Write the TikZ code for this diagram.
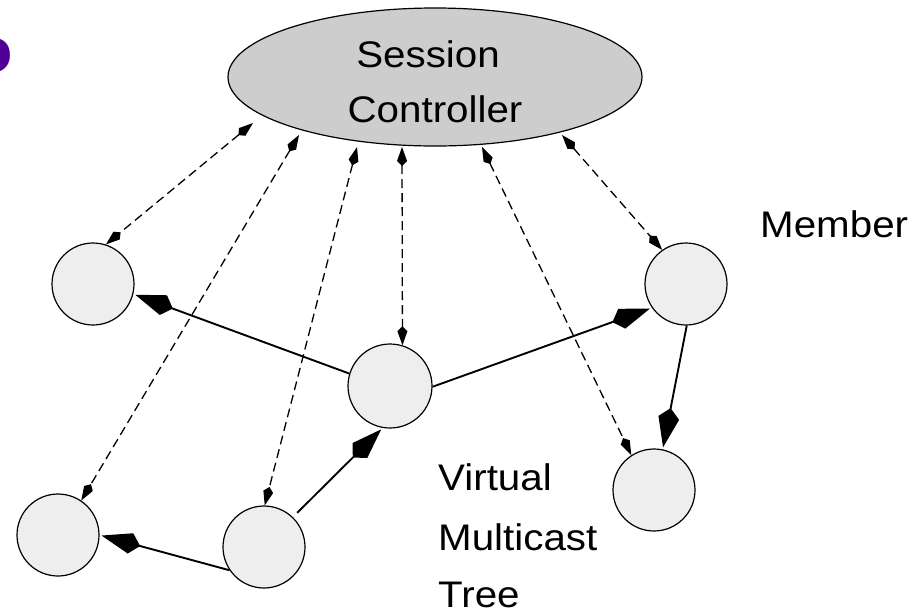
\documentclass[tikz,border=0pt]{standalone}
\usepackage{fontspec}
\setmainfont{Liberation Sans}[FakeStretch=1.09]
\usetikzlibrary{arrows.meta,shapes.geometric}
\definecolor{purpleC}{RGB}{80,0,150}
\definecolor{ellfill}{RGB}{205,205,205}
\definecolor{nodefill}{RGB}{238,238,238}
\begin{document}
\begin{tikzpicture}[x=1pt,y=-1pt,
  member/.style={circle, draw=black, line width=1.2pt, fill=nodefill, minimum size=82pt, inner sep=0pt},
  treelink/.style={line width=1.9pt, -{Kite[length=40pt,width=21pt,inset=10pt]}, shorten >=2pt},
  ctrllink/.style={line width=1.3pt, dash pattern=on 9pt off 5pt,
     {Kite[length=19pt,width=10pt,inset=5pt]}-{Kite[length=19pt,width=10pt,inset=5pt]}},
  lbl/.style={font=\fontsize{37}{37}\selectfont, inner sep=0pt}
]
\useasboundingbox (0,0) rectangle (917,611);
\fill[white] (0,0) rectangle (917,611);

% purple fragment
\node[anchor=base east, inner sep=0pt, text=purpleC, font=\fontsize{64}{64}\selectfont\bfseries] (frag) at (13,72) {o};

% session controller
\node[ellipse, draw=black, line width=1.2pt, fill=ellfill, minimum width=414pt, minimum height=138pt, inner sep=0pt] (sc) at (435,77) {};
\node[lbl, anchor=base] (t1) at (428,67) {Session};
\node[lbl, anchor=base] (t2) at (435,122) {Controller};

% members
\node[member] (A) at (93,284) {};
\node[member, minimum size=84pt] (B) at (390,386) {};
\node[member] (C) at (686,284) {};
\node[member] (D) at (654,490) {};
\node[member] (E) at (58,535) {};
\node[member] (F) at (264,547) {};

% labels
\node[lbl, anchor=base west] (mem) at (760,237) {Member};
\node[lbl, anchor=base west] (v1) at (438,490) {Virtual};
\node[lbl, anchor=base west] (v2) at (438,550) {Multicast};
\node[lbl, anchor=base west] (v3) at (438,607) {Tree};

% controller end points
\coordinate (s1) at (253,123);
\coordinate (s2) at (299,135);
\coordinate (s3) at (357,147);
\coordinate (s4) at (402,147);
\coordinate (s5) at (482,147);
\coordinate (s6) at (562,135);

% dashed control links
\draw[ctrllink] (s1) -- (A.72);
\draw[ctrllink] (s2) -- (E.56);
\draw[ctrllink] (s3) -- (F.89);
\draw[ctrllink] (s4) -- (B.73);
\draw[ctrllink] (s5) -- (D.123);
\draw[ctrllink] (s6) -- (C.125);

% tree links
\draw[treelink] (B.163) -- (A.-14);
\draw[treelink] (B.-1) -- (C.215);
\draw[treelink] (C.-89) -- (D.78);
\draw[treelink, shorten <=6pt] (F.46) -- (B.260);
\draw[treelink] (F.214) -- (E.0);
\end{tikzpicture}
\end{document}
